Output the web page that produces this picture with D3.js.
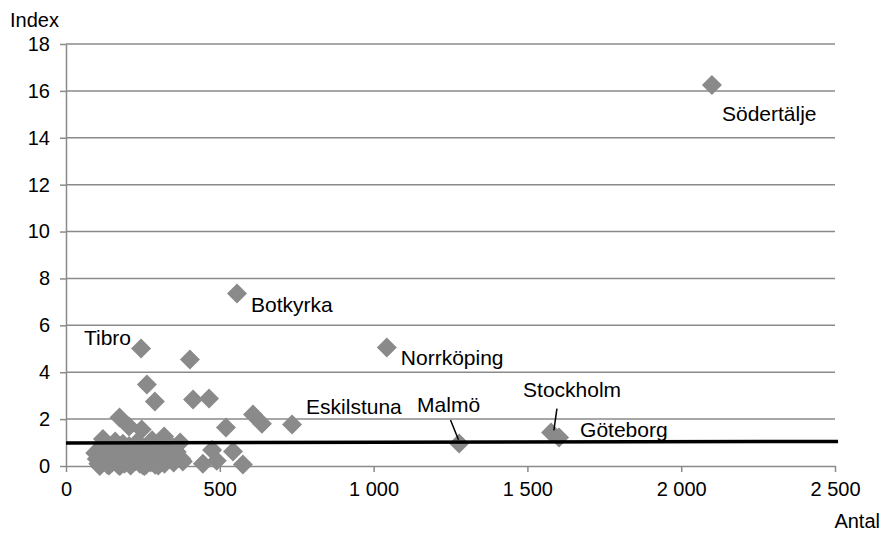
<!DOCTYPE html>
<html lang="sv">
<head>
<meta charset="UTF-8">
<title>Index mot antal</title>
<script src="https://d3js.org/d3.v7.min.js"></script>
<style>
  body { margin: 0; background: #fff; }
  text { font-family: "Liberation Sans", Arial, sans-serif; fill: #000; }
</style>
</head>
<body>
<svg id="chart" width="881" height="534"></svg>
<script>
// kommuner med namn: antal, index
var namedNames = ["Södertälje", "Botkyrka", "Norrköping", "Tibro", "Eskilstuna", "Malmö", "Stockholm", "Göteborg"];
var namedAntal = [2100, 556, 1043, 244, 735, 1278, 1577, 1603];
var namedIndex = [16.25, 7.36, 5.05, 5.01, 1.77, 0.96, 1.43, 1.22];

// övriga kommuner (utan etikett)
var otherAntal = [403, 263, 289, 413, 465, 608, 637, 520, 174, 205, 246, 319, 120, 371, 475, 543, 445, 490, 575, 380, 348,
  95, 100, 105, 110, 115, 120, 125, 130, 135, 140, 145, 150, 155, 160, 165, 170, 175, 180, 185, 190, 195, 200,
  205, 210, 215, 220, 225, 230, 235, 240, 245, 250, 255, 260, 265, 270, 275, 280, 285, 290, 295, 300, 310, 320,
  330, 340, 350, 360, 375, 110, 130, 150, 180, 200, 230, 260, 290, 140, 170, 210, 250, 300];
var otherIndex = [4.54, 3.48, 2.75, 2.84, 2.88, 2.2, 1.8, 1.64, 2.07, 1.69, 1.56, 1.26, 1.15, 1.0, 0.68, 0.62, 0.1, 0.22, 0.06, 0.19, 0.79,
  0.55, 0.3, 0.1, 0.75, 0.45, 0.2, 0.9, 0.6, 0.05, 0.35, 0.8, 0.15, 0.5, 1.05, 0.25, 0.7, 0.0, 0.4, 0.95, 0.1, 0.6, 0.3,
  0.85, 0.05, 0.45, 0.7, 0.2, 1.0, 0.55, 0.1, 0.35, 0.8, 0.0, 0.5, 0.25, 0.65, 0.15, 1.1, 0.4, 0.05, 0.75, 0.3, 0.55, 0.1,
  0.9, 0.35, 0.15, 0.6, 0.3, 0.0, 0.25, 0.65, 0.2, 0.55, 0.4, 0.05, 0.5, 0.02, 0.04, 0.02, 0.03, 0.02];

// referenslinje (index ~ 1)
var refAntal = [0, 2510];
var refIndex = [0.98, 1.05];

// hänvisningslinjer för Malmö och Stockholm
var leaderNames = ["Malmö", "Stockholm"];
var leaderFrom = [[1250, 1.96], [1596, 2.45]];
var leaderTo = [[1276, 1.12], [1586, 1.52]];

var xTicks = [0, 500, 1000, 1500, 2000, 2500];
var yTicks = [0, 2, 4, 6, 8, 10, 12, 14, 16, 18];

var svg = d3.select("#chart");
var grey = "#8a8a8a";

var x = d3.scaleLinear().domain([0, 2500]).range([66, 835]);
var y = d3.scaleLinear().domain([0, 18]).range([466, 44]);

var fmt = function(d) { return d3.format(",")(d).replace(/,/g, " "); };

// stödlinjer
svg.append("g").selectAll("line")
  .data(yTicks.filter(function(d){ return d > 0; }))
  .enter().append("line")
  .attr("x1", x(0)).attr("x2", x(2500))
  .attr("y1", function(d){ return y(d); }).attr("y2", function(d){ return y(d); })
  .style("stroke", grey).style("stroke-width", 1.5);

// y-axel
var yAxis = d3.axisLeft(y).tickValues(yTicks).tickSize(6).tickSizeOuter(0).tickPadding(10);
var gy = svg.append("g").attr("transform", "translate(" + x(0) + ",0)").call(yAxis);
gy.select(".domain").style("stroke", grey).style("stroke-width", 1.5);
gy.selectAll(".tick line").style("stroke", grey).style("stroke-width", 1.5);
gy.selectAll(".tick text").style("font-size", "20px").attr("font-family", null);

// x-axel
var xAxis = d3.axisBottom(x).tickValues(xTicks).tickSize(6).tickSizeOuter(0).tickPadding(10).tickFormat(fmt);
var gx = svg.append("g").attr("transform", "translate(0," + y(0) + ")").call(xAxis);
gx.select(".domain").style("stroke", grey).style("stroke-width", 1.5);
gx.selectAll(".tick line").style("stroke", grey).style("stroke-width", 1.5);
gx.selectAll(".tick text").style("font-size", "20px").attr("font-family", null);

// punkter
var diamond = d3.symbol().type(d3.symbolSquare).size(200);
var others = otherAntal.map(function(a, i){ return {a: a, v: otherIndex[i]}; });
var named = namedAntal.map(function(a, i){ return {name: namedNames[i], a: a, v: namedIndex[i]}; });

svg.append("g").selectAll("path")
  .data(others.concat(named))
  .enter().append("path")
  .attr("d", diamond)
  .attr("transform", function(d){ return "translate(" + x(d.a) + "," + y(d.v) + ") rotate(45)"; })
  .style("fill", grey);

// referenslinje
svg.append("line")
  .attr("x1", x(refAntal[0])).attr("y1", y(refIndex[0]))
  .attr("x2", x(refAntal[1])).attr("y2", y(refIndex[1]))
  .style("stroke", "#000").style("stroke-width", 3.5);

// hänvisningslinjer
svg.append("g").selectAll("line")
  .data(leaderNames)
  .enter().append("line")
  .attr("x1", function(d, i){ return x(leaderFrom[i][0]); })
  .attr("y1", function(d, i){ return y(leaderFrom[i][1]); })
  .attr("x2", function(d, i){ return x(leaderTo[i][0]); })
  .attr("y2", function(d, i){ return y(leaderTo[i][1]); })
  .style("stroke", "#000").style("stroke-width", 1.5);

// etiketter (pixelförskjutning från punkten)
var labelOffset = {
  "Södertälje": [10, 36, "start"],
  "Botkyrka": [14, 19, "start"],
  "Norrköping": [14, 17, "start"],
  "Tibro": [-10, -4, "end"],
  "Eskilstuna": [14, -11, "start"],
  "Malmö": [-42, -31, "start"],
  "Stockholm": [-28, -35, "start"],
  "Göteborg": [21, 0, "start"]
};
svg.append("g").selectAll("text")
  .data(named)
  .enter().append("text")
  .attr("x", function(d){ return x(d.a) + labelOffset[d.name][0]; })
  .attr("y", function(d){ return y(d.v) + labelOffset[d.name][1]; })
  .attr("text-anchor", function(d){ return labelOffset[d.name][2]; })
  .style("font-size", "21px")
  .text(function(d){ return d.name; });

// axeltitlar
svg.append("text").attr("x", 10).attr("y", 27).style("font-size", "20px").text("Index");
svg.append("text").attr("x", 880).attr("y", 528).attr("text-anchor", "end").style("font-size", "20px").text("Antal");
</script>
</body>
</html>
